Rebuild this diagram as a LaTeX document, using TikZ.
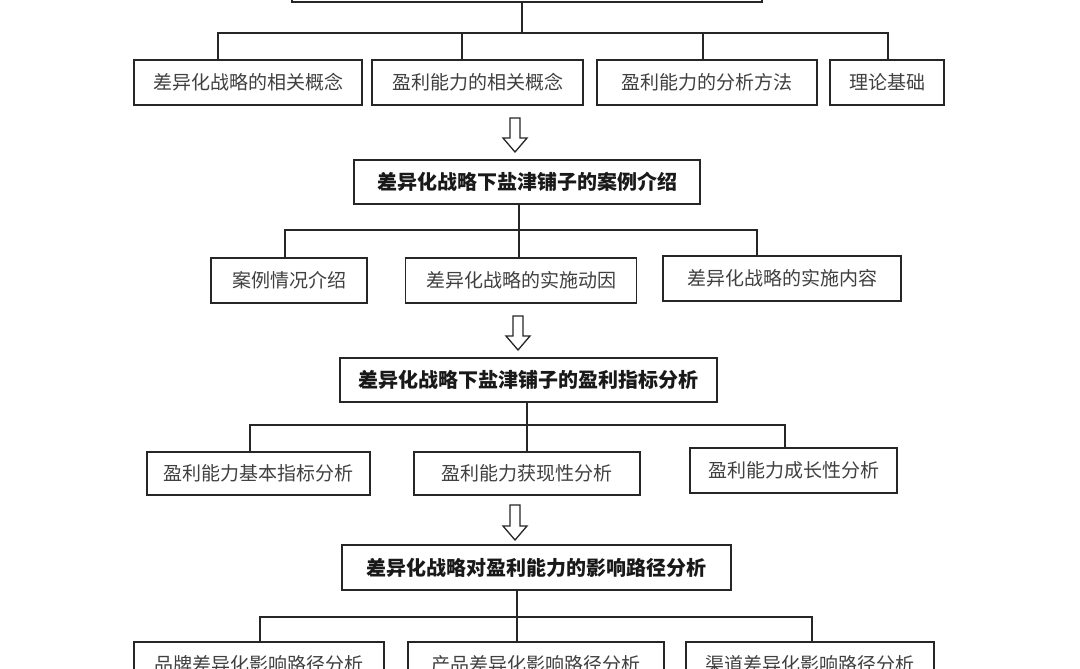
\documentclass[tikz,border=0pt]{standalone}
\usepackage{fontspec}
\newfontfamily\cjk{Noto Sans CJK SC}
\begin{document}
\begin{tikzpicture}[x=1pt,y=-1pt]
 % box and line styles
 \tikzset{box/.style={draw=black!85, line width=1.5pt, fill=white, minimum height=45, inner sep=0pt, font=\cjk\fontsize{19}{22}\selectfont, text=black!75},
  headbox/.style={box, font=\cjk\bfseries\fontsize{20}{24}\selectfont, text=black!90},
  link/.style={draw=black!85, line width=1.5pt},
  hollow/.style={draw=black!85, line width=1.3pt, fill=white, line join=miter}}

 \useasboundingbox[fill=white] (0,0) rectangle (1080,669);

 %top box (cut off by the page)
 \node[box, minimum width=470, minimum height=42] (top) at (527,-19) {};

 %first row
 \node[box, minimum width=228] (c1) at (248,82.5) {差异化战略的相关概念};
 \node[box, minimum width=211] (c2) at (477.5,82.5) {盈利能力的相关概念};
 \node[box, minimum width=220] (c3) at (707,82.5) {盈利能力的分析方法};
 \node[box, minimum width=114] (c4) at (887,82.5) {理论基础};

 \coordinate (bar1) at (522,33);
 \draw[link] (top.south -| bar1) -- (bar1);
 \draw[link] ([xshift=-30pt]c1.north) |- ([xshift=1pt]c4.north |- bar1) -- ([xshift=1pt]c4.north);
 \draw[link] ([xshift=-15.5pt]c2.north) -- ([xshift=-15.5pt]c2.north |- bar1);
 \draw[link] ([xshift=-4pt]c3.north) -- ([xshift=-4pt]c3.north |- bar1);

 %case introduction
 \coordinate (ar1) at (515,118);
 \draw[hollow] (ar1) ++(-5,0) -- ++(0,20) -- ++(-7,0) -- ++(12,14) -- ++(12,-14) -- ++(-7,0) -- ++(0,-20) -- cycle;
 \node[headbox, minimum width=346, minimum height=44] (case) at (527,182) {差异化战略下盐津铺子的案例介绍};

 \node[box, minimum width=156] (case1) at (289,280.5) {案例情况介绍};
 \node[box, minimum width=231] (case2) at (521,280.5) {差异化战略的实施动因};
 \node[box, minimum width=238] (case3) at (782,278.5) {差异化战略的实施内容};

 \coordinate (bar2) at (519,230);
 \draw[link] (case.south -| bar2) -- (bar2);
 \draw[link] ([xshift=-4pt]case1.north) |- ([xshift=-25pt]case3.north |- bar2) -- ([xshift=-25pt]case3.north);
 \draw[link] ([xshift=-2pt]case2.north) -- ([xshift=-2pt]case2.north |- bar2);

 %profit index analysis
 \coordinate (ar2) at (518,316);
 \draw[hollow] (ar2) ++(-5,0) -- ++(0,20) -- ++(-7,0) -- ++(12,14) -- ++(12,-14) -- ++(-7,0) -- ++(0,-20) -- cycle;
 \node[headbox, minimum width=377, minimum height=44] (index) at (528.5,380) {差异化战略下盐津铺子的盈利指标分析};

 \node[box, minimum width=223, minimum height=43] (idx1) at (258.5,473.5) {盈利能力基本指标分析};
 \node[box, minimum width=226, minimum height=43] (idx2) at (527,473.5) {盈利能力获现性分析};
 \node[box, minimum width=207, minimum height=45] (idx3) at (793.5,470.5) {盈利能力成长性分析};

 \coordinate (bar3) at (527,425);
 \draw[link] (index.south -| bar3) -- (bar3);
 \draw[link] ([xshift=-8.5pt]idx1.north) |- ([xshift=-8.5pt]idx3.north |- bar3) -- ([xshift=-8.5pt]idx3.north);
 \draw[link] (idx2.north) -- (idx2.north |- bar3);

 %influence path analysis
 \coordinate (ar3) at (515,505);
 \draw[hollow] (ar3) ++(-5,0) -- ++(0,21) -- ++(-7,0) -- ++(12,14) -- ++(12,-14) -- ++(-7,0) -- ++(0,-21) -- cycle;
 \node[headbox, minimum width=389] (path) at (536.5,567.5) {差异化战略对盈利能力的影响路径分析};

 \node[box, minimum width=250] (path1) at (259,664.5) {品牌差异化影响路径分析};
 \node[box, minimum width=256] (path2) at (536,664.5) {产品差异化影响路径分析};
 \node[box, minimum width=248] (path3) at (810,664.5) {渠道差异化影响路径分析};

 \coordinate (bar4) at (517,617);
 \draw[link] (path.south -| bar4) -- (bar4);
 \draw[link] ([xshift=1pt]path1.north) |- ([xshift=2pt]path3.north |- bar4) -- ([xshift=2pt]path3.north);
 \draw[link] (path2.north -| bar4) -- (bar4);
\end{tikzpicture}
\end{document}
